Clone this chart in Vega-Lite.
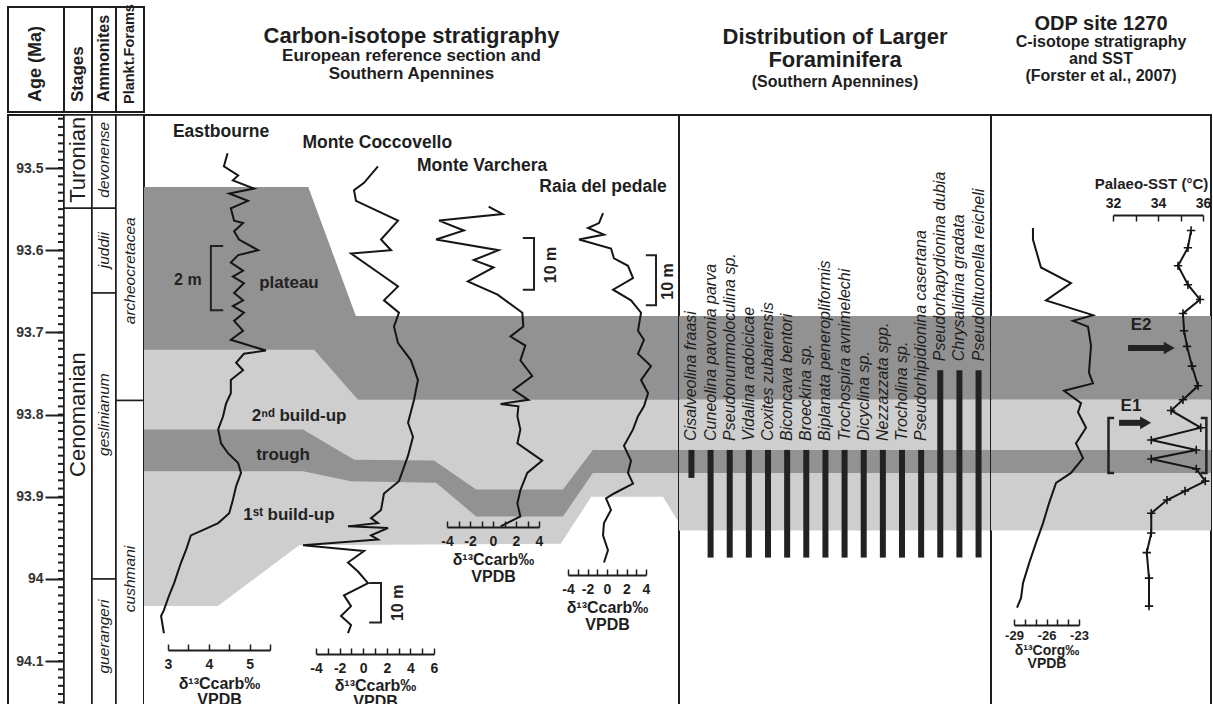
{
"$schema":"https://vega.github.io/schema/vega-lite/v6.json",
"padding":{"left":7,"top":3,"right":3,"bottom":0},
"config":{
 "view":{"stroke":"#1e1e1e","strokeWidth":2},
 "font":"Liberation Sans",
 "axis":{"grid":false,"labelFont":"Liberation Sans","titleFont":"Liberation Sans","labelFontWeight":"bold","labelFontSize":14,"labelColor":"#1e1e1e","titleFontSize":16,"titleFontWeight":"bold","titleColor":"#1e1e1e","domainColor":"#1e1e1e","tickColor":"#1e1e1e","domainWidth":1.8,"tickWidth":1.5,"labelFlush":false,"labelOverlap":false},
 "title":{"font":"Liberation Sans","fontWeight":"bold","color":"#1e1e1e","subtitleFont":"Liberation Sans","subtitleFontWeight":"bold","subtitleColor":"#1e1e1e"},
 "text":{"font":"Liberation Sans"}
},
"datasets":{
 "minorTicks":[{"age":93.44},{"age":93.45},{"age":93.46},{"age":93.47},{"age":93.48},{"age":93.49},{"age":93.5},{"age":93.51},{"age":93.52},{"age":93.53},{"age":93.54},{"age":93.55},{"age":93.56},{"age":93.57},{"age":93.58},{"age":93.59},{"age":93.6},{"age":93.61},{"age":93.62},{"age":93.63},{"age":93.64},{"age":93.65},{"age":93.66},{"age":93.67},{"age":93.68},{"age":93.69},{"age":93.7},{"age":93.71},{"age":93.72},{"age":93.73},{"age":93.74},{"age":93.75},{"age":93.76},{"age":93.77},{"age":93.78},{"age":93.79},{"age":93.8},{"age":93.81},{"age":93.82},{"age":93.83},{"age":93.84},{"age":93.85},{"age":93.86},{"age":93.87},{"age":93.88},{"age":93.89},{"age":93.9},{"age":93.91},{"age":93.92},{"age":93.93},{"age":93.94},{"age":93.95},{"age":93.96},{"age":93.97},{"age":93.98},{"age":93.99},{"age":94},{"age":94.01},{"age":94.02},{"age":94.03},{"age":94.04},{"age":94.05},{"age":94.06},{"age":94.07},{"age":94.08},{"age":94.09},{"age":94.1},{"age":94.11},{"age":94.12},{"age":94.13},{"age":94.14},{"age":94.15}],
 "zones":[
  {"column":"Stages","unit":"Turonian","top":93.4355,"base":93.549,"labelAge":93.49},
  {"column":"Stages","unit":"Cenomanian","top":93.549,"base":94.1582,"labelAge":93.8},
  {"column":"Ammonites","unit":"devonense","top":93.4355,"base":93.549,"labelAge":93.49},
  {"column":"Ammonites","unit":"juddii","top":93.549,"base":93.652,"labelAge":93.6},
  {"column":"Ammonites","unit":"geslinianum","top":93.652,"base":94.0,"labelAge":93.8},
  {"column":"Ammonites","unit":"guerangeri","top":94.0,"base":94.1582,"labelAge":94.07},
  {"column":"Plankt.Forams","unit":"archeocretacea","top":93.4355,"base":93.783,"labelAge":93.625},
  {"column":"Plankt.Forams","unit":"cushmani","top":93.783,"base":94.1582,"labelAge":94.0}
 ],
 "boundaries":[
  {"b":"a","pos":0,"age":93.523},{"b":"a","pos":30.7,"age":93.523},{"b":"a","pos":39.6,"age":93.68},{"b":"a","pos":100,"age":93.68},
  {"b":"b","pos":0,"age":93.721},{"b":"b","pos":31.8,"age":93.721},{"b":"b","pos":40.0,"age":93.782},{"b":"b","pos":100,"age":93.782},
  {"b":"c","pos":0,"age":93.818},{"b":"c","pos":29.7,"age":93.818},{"b":"c","pos":39.3,"age":93.855},{"b":"c","pos":54.2,"age":93.856},{"b":"c","pos":62.1,"age":93.891},{"b":"c","pos":78.3,"age":93.891},{"b":"c","pos":83.9,"age":93.843},{"b":"c","pos":100,"age":93.843},
  {"b":"d","pos":0,"age":93.869},{"b":"d","pos":29.7,"age":93.869},{"b":"d","pos":38.7,"age":93.881},{"b":"d","pos":54.6,"age":93.883},{"b":"d","pos":62.1,"age":93.924},{"b":"d","pos":78.3,"age":93.924},{"b":"d","pos":83.9,"age":93.871},{"b":"d","pos":100,"age":93.871},
  {"b":"e","pos":0,"age":94.033},{"b":"e","pos":13.8,"age":94.033},{"b":"e","pos":29.0,"age":93.959},{"b":"e","pos":77.9,"age":93.957},{"b":"e","pos":83.6,"age":93.9},{"b":"e","pos":97.0,"age":93.9},{"b":"e","pos":100,"age":93.932}
 ],
 "flatBands":[
  {"band":"dark","top":93.68,"base":93.782},
  {"band":"light","top":93.782,"base":93.843},
  {"band":"dark","top":93.843,"base":93.871},
  {"band":"light","top":93.871,"base":93.941}
 ],
 "curves":[
  {"section":"Eastbourne","d13C":4.46,"age":93.482},{"section":"Eastbourne","d13C":4.37,"age":93.498},{"section":"Eastbourne","d13C":4.72,"age":93.509},{"section":"Eastbourne","d13C":4.59,"age":93.515},{"section":"Eastbourne","d13C":5.11,"age":93.525},{"section":"Eastbourne","d13C":4.5,"age":93.531},{"section":"Eastbourne","d13C":4.96,"age":93.54},{"section":"Eastbourne","d13C":4.54,"age":93.549},{"section":"Eastbourne","d13C":4.62,"age":93.564},{"section":"Eastbourne","d13C":4.84,"age":93.567},{"section":"Eastbourne","d13C":4.62,"age":93.577},{"section":"Eastbourne","d13C":4.74,"age":93.587},{"section":"Eastbourne","d13C":5.21,"age":93.6},{"section":"Eastbourne","d13C":4.72,"age":93.606},{"section":"Eastbourne","d13C":4.54,"age":93.615},{"section":"Eastbourne","d13C":4.84,"age":93.625},{"section":"Eastbourne","d13C":4.59,"age":93.632},{"section":"Eastbourne","d13C":4.86,"age":93.64},{"section":"Eastbourne","d13C":4.62,"age":93.652},{"section":"Eastbourne","d13C":4.84,"age":93.661},{"section":"Eastbourne","d13C":4.59,"age":93.668},{"section":"Eastbourne","d13C":4.86,"age":93.676},{"section":"Eastbourne","d13C":4.62,"age":93.686},{"section":"Eastbourne","d13C":4.84,"age":93.698},{"section":"Eastbourne","d13C":4.54,"age":93.709},{"section":"Eastbourne","d13C":5.4,"age":93.722},{"section":"Eastbourne","d13C":4.86,"age":93.726},{"section":"Eastbourne","d13C":4.67,"age":93.737},{"section":"Eastbourne","d13C":4.84,"age":93.746},{"section":"Eastbourne","d13C":4.54,"age":93.758},{"section":"Eastbourne","d13C":4.54,"age":93.774},{"section":"Eastbourne","d13C":4.42,"age":93.787},{"section":"Eastbourne","d13C":4.35,"age":93.802},{"section":"Eastbourne","d13C":4.23,"age":93.818},{"section":"Eastbourne","d13C":4.3,"age":93.835},{"section":"Eastbourne","d13C":4.47,"age":93.847},{"section":"Eastbourne","d13C":4.72,"age":93.859},{"section":"Eastbourne","d13C":4.79,"age":93.871},{"section":"Eastbourne","d13C":4.67,"age":93.887},{"section":"Eastbourne","d13C":4.59,"age":93.904},{"section":"Eastbourne","d13C":4.5,"age":93.92},{"section":"Eastbourne","d13C":4.23,"age":93.932},{"section":"Eastbourne","d13C":3.88,"age":93.94},{"section":"Eastbourne","d13C":3.56,"age":93.947},{"section":"Eastbourne","d13C":3.44,"age":93.965},{"section":"Eastbourne","d13C":3.32,"age":93.98},{"section":"Eastbourne","d13C":3.15,"age":94.005},{"section":"Eastbourne","d13C":3.02,"age":94.021},{"section":"Eastbourne","d13C":2.9,"age":94.038},{"section":"Eastbourne","d13C":2.83,"age":94.045},{"section":"Eastbourne","d13C":2.9,"age":94.066},
  {"section":"Monte Coccovello","d13C":1.25,"age":93.498},{"section":"Monte Coccovello","d13C":0.07,"age":93.518},{"section":"Monte Coccovello","d13C":-0.78,"age":93.527},{"section":"Monte Coccovello","d13C":-0.61,"age":93.54},{"section":"Monte Coccovello","d13C":2.95,"age":93.564},{"section":"Monte Coccovello","d13C":1.51,"age":93.587},{"section":"Monte Coccovello","d13C":2.36,"age":93.6},{"section":"Monte Coccovello","d13C":-1.03,"age":93.604},{"section":"Monte Coccovello","d13C":1.76,"age":93.632},{"section":"Monte Coccovello","d13C":2.95,"age":93.644},{"section":"Monte Coccovello","d13C":1.76,"age":93.661},{"section":"Monte Coccovello","d13C":3.03,"age":93.676},{"section":"Monte Coccovello","d13C":2.61,"age":93.693},{"section":"Monte Coccovello","d13C":2.95,"age":93.713},{"section":"Monte Coccovello","d13C":4.05,"age":93.734},{"section":"Monte Coccovello","d13C":4.64,"age":93.758},{"section":"Monte Coccovello","d13C":4.31,"age":93.782},{"section":"Monte Coccovello","d13C":3.8,"age":93.81},{"section":"Monte Coccovello","d13C":4.22,"age":93.827},{"section":"Monte Coccovello","d13C":3.8,"age":93.85},{"section":"Monte Coccovello","d13C":3.03,"age":93.881},{"section":"Monte Coccovello","d13C":1.76,"age":93.896},{"section":"Monte Coccovello","d13C":1.51,"age":93.916},{"section":"Monte Coccovello","d13C":0.66,"age":93.926},{"section":"Monte Coccovello","d13C":1.25,"age":93.932},{"section":"Monte Coccovello","d13C":-1.29,"age":93.936},{"section":"Monte Coccovello","d13C":2.1,"age":93.938},{"section":"Monte Coccovello","d13C":0.66,"age":93.947},{"section":"Monte Coccovello","d13C":1.25,"age":93.952},{"section":"Monte Coccovello","d13C":-5.1,"age":93.959},{"section":"Monte Coccovello","d13C":0.07,"age":93.966},{"section":"Monte Coccovello","d13C":-1.29,"age":93.98},{"section":"Monte Coccovello","d13C":-0.44,"age":93.991},{"section":"Monte Coccovello","d13C":0.41,"age":94.005},{"section":"Monte Coccovello","d13C":-1.63,"age":94.02},{"section":"Monte Coccovello","d13C":-1.03,"age":94.033},{"section":"Monte Coccovello","d13C":-1.88,"age":94.045},{"section":"Monte Coccovello","d13C":-1.03,"age":94.056},{"section":"Monte Coccovello","d13C":-1.29,"age":94.066},
  {"section":"Monte Varchera","d13C":-0.38,"age":93.547},{"section":"Monte Varchera","d13C":0.83,"age":93.556},{"section":"Monte Varchera","d13C":-4.69,"age":93.564},{"section":"Monte Varchera","d13C":-2.53,"age":93.576},{"section":"Monte Varchera","d13C":-4.95,"age":93.587},{"section":"Monte Varchera","d13C":0.48,"age":93.6},{"section":"Monte Varchera","d13C":-1.67,"age":93.612},{"section":"Monte Varchera","d13C":0.05,"age":93.621},{"section":"Monte Varchera","d13C":-2.19,"age":93.638},{"section":"Monte Varchera","d13C":0.4,"age":93.654},{"section":"Monte Varchera","d13C":2.55,"age":93.676},{"section":"Monte Varchera","d13C":2.64,"age":93.693},{"section":"Monte Varchera","d13C":1.52,"age":93.705},{"section":"Monte Varchera","d13C":2.81,"age":93.716},{"section":"Monte Varchera","d13C":2.38,"age":93.734},{"section":"Monte Varchera","d13C":3.41,"age":93.753},{"section":"Monte Varchera","d13C":1.78,"age":93.77},{"section":"Monte Varchera","d13C":3.07,"age":93.782},{"section":"Monte Varchera","d13C":0.66,"age":93.787},{"section":"Monte Varchera","d13C":2.21,"age":93.79},{"section":"Monte Varchera","d13C":2.12,"age":93.802},{"section":"Monte Varchera","d13C":2.38,"age":93.818},{"section":"Monte Varchera","d13C":2.12,"age":93.835},{"section":"Monte Varchera","d13C":4.28,"age":93.856},{"section":"Monte Varchera","d13C":2.98,"age":93.871},{"section":"Monte Varchera","d13C":2.38,"age":93.892},{"section":"Monte Varchera","d13C":2.12,"age":93.908},{"section":"Monte Varchera","d13C":2.38,"age":93.924},{"section":"Monte Varchera","d13C":1.52,"age":93.93},{"section":"Monte Varchera","d13C":0.66,"age":93.936},
  {"section":"Raia del pedale","d13C":-0.41,"age":93.555},{"section":"Raia del pedale","d13C":-0.82,"age":93.567},{"section":"Raia del pedale","d13C":-1.95,"age":93.573},{"section":"Raia del pedale","d13C":-0.31,"age":93.581},{"section":"Raia del pedale","d13C":-2.87,"age":93.587},{"section":"Raia del pedale","d13C":0.41,"age":93.598},{"section":"Raia del pedale","d13C":0.72,"age":93.61},{"section":"Raia del pedale","d13C":2.15,"age":93.619},{"section":"Raia del pedale","d13C":2.67,"age":93.634},{"section":"Raia del pedale","d13C":0.62,"age":93.648},{"section":"Raia del pedale","d13C":2.46,"age":93.661},{"section":"Raia del pedale","d13C":3.49,"age":93.676},{"section":"Raia del pedale","d13C":3.18,"age":93.698},{"section":"Raia del pedale","d13C":3.79,"age":93.709},{"section":"Raia del pedale","d13C":3.18,"age":93.726},{"section":"Raia del pedale","d13C":4.51,"age":93.741},{"section":"Raia del pedale","d13C":3.49,"age":93.758},{"section":"Raia del pedale","d13C":4.21,"age":93.774},{"section":"Raia del pedale","d13C":3.79,"age":93.79},{"section":"Raia del pedale","d13C":3.18,"age":93.802},{"section":"Raia del pedale","d13C":2.67,"age":93.818},{"section":"Raia del pedale","d13C":1.74,"age":93.838},{"section":"Raia del pedale","d13C":2.46,"age":93.856},{"section":"Raia del pedale","d13C":2.15,"age":93.871},{"section":"Raia del pedale","d13C":2.67,"age":93.884},{"section":"Raia del pedale","d13C":0.72,"age":93.896},{"section":"Raia del pedale","d13C":-0.1,"age":93.902},{"section":"Raia del pedale","d13C":0.41,"age":93.916},{"section":"Raia del pedale","d13C":-0.31,"age":93.932},{"section":"Raia del pedale","d13C":-0.41,"age":93.947},{"section":"Raia del pedale","d13C":0.1,"age":93.965},{"section":"Raia del pedale","d13C":-0.31,"age":93.98}
 ],
 "siteLabels":[
  {"name":"Eastbourne","pos":14.4,"age":93.456},
  {"name":"Monte Coccovello","pos":43.6,"age":93.469},
  {"name":"Monte Varchera","pos":63.2,"age":93.497},
  {"name":"Raia del pedale","pos":85.8,"age":93.523}
 ],
 "bandLabels":[
  {"label":"plateau","pos":27.1,"age":93.64},
  {"label":"2ⁿᵈ build-up","pos":29.0,"age":93.802},
  {"label":"trough","pos":26.0,"age":93.849},
  {"label":"1ˢᵗ build-up","pos":27.1,"age":93.922}
 ],
 "scaleBars":[
  {"bar":"Eastbourne","k":1,"pos":14.8,"age":93.595},{"bar":"Eastbourne","k":2,"pos":12.5,"age":93.595},{"bar":"Eastbourne","k":3,"pos":12.5,"age":93.673},{"bar":"Eastbourne","k":4,"pos":14.8,"age":93.673},
  {"bar":"Coccovello","k":1,"pos":42.1,"age":94.005},{"bar":"Coccovello","k":2,"pos":44.3,"age":94.005},{"bar":"Coccovello","k":3,"pos":44.3,"age":94.053},{"bar":"Coccovello","k":4,"pos":42.1,"age":94.053},
  {"bar":"Varchera","k":1,"pos":70.8,"age":93.585},{"bar":"Varchera","k":2,"pos":72.9,"age":93.585},{"bar":"Varchera","k":3,"pos":72.9,"age":93.648},{"bar":"Varchera","k":4,"pos":70.8,"age":93.648},
  {"bar":"Raia","k":1,"pos":93.8,"age":93.606},{"bar":"Raia","k":2,"pos":95.7,"age":93.606},{"bar":"Raia","k":3,"pos":95.7,"age":93.667},{"bar":"Raia","k":4,"pos":93.8,"age":93.667}
 ],
 "scaleText":[
  {"text":"2 m","kind":"flat","pos":8.2,"age":93.636},
  {"text":"10 m","kind":"up","pos":47.5,"age":94.029},
  {"text":"10 m","kind":"up","pos":76.1,"age":93.618},
  {"text":"10 m","kind":"up","pos":97.9,"age":93.638}
 ],
 "forams":[
  {"species":"Cisalveolina fraasi","top":93.843,"base":93.877},
  {"species":"Cuneolina pavonia parva","top":93.843,"base":93.974},
  {"species":"Pseudonummoloculina sp.","top":93.843,"base":93.974},
  {"species":"Vidalina radoicicae","top":93.843,"base":93.974},
  {"species":"Coxites zubairensis","top":93.843,"base":93.974},
  {"species":"Biconcava bentori","top":93.843,"base":93.974},
  {"species":"Broeckina sp.","top":93.843,"base":93.974},
  {"species":"Biplanata peneropliformis","top":93.843,"base":93.974},
  {"species":"Trochospira avnimelechi","top":93.843,"base":93.974},
  {"species":"Dicyclina sp.","top":93.843,"base":93.974},
  {"species":"Nezzazzata spp.","top":93.843,"base":93.974},
  {"species":"Trocholina sp.","top":93.843,"base":93.974},
  {"species":"Pseudorhipidionina casertana","top":93.843,"base":93.974},
  {"species":"Pseudorhapydionina dubia","top":93.746,"base":93.974},
  {"species":"Chrysalidina gradata","top":93.746,"base":93.974},
  {"species":"Pseudolituonella reicheli","top":93.746,"base":93.974}
 ],
 "corg":[
  {"d13Corg":-27.25,"age":93.573},{"d13Corg":-27.25,"age":93.587},{"d13Corg":-26.51,"age":93.621},{"d13Corg":-23.74,"age":93.64},{"d13Corg":-26.05,"age":93.661},{"d13Corg":-21.71,"age":93.679},{"d13Corg":-23.55,"age":93.686},{"d13Corg":-22.17,"age":93.693},{"d13Corg":-21.89,"age":93.716},{"d13Corg":-22.08,"age":93.749},{"d13Corg":-21.71,"age":93.762},{"d13Corg":-24.38,"age":93.771},{"d13Corg":-22.81,"age":93.786},{"d13Corg":-23.09,"age":93.797},{"d13Corg":-22.35,"age":93.816},{"d13Corg":-23.28,"age":93.835},{"d13Corg":-22.63,"age":93.853},{"d13Corg":-23.74,"age":93.871},{"d13Corg":-25.12,"age":93.883},{"d13Corg":-25.77,"age":93.908},{"d13Corg":-26.32,"age":93.932},{"d13Corg":-26.97,"age":93.956},{"d13Corg":-27.61,"age":93.981},{"d13Corg":-28.17,"age":94.005},{"d13Corg":-28.35,"age":94.023},{"d13Corg":-28.72,"age":94.035}
 ],
 "sst":[
  {"sst":35.47,"age":93.576},{"sst":35.33,"age":93.597},{"sst":34.89,"age":93.619},{"sst":35.33,"age":93.642},{"sst":35.87,"age":93.66},{"sst":35.11,"age":93.677},{"sst":35.16,"age":93.698},{"sst":35.29,"age":93.717},{"sst":35.51,"age":93.741},{"sst":35.78,"age":93.765},{"sst":35.11,"age":93.782},{"sst":34.58,"age":93.795},{"sst":35.9,"age":93.816},{"sst":33.7,"age":93.831},{"sst":35.7,"age":93.843},{"sst":33.7,"age":93.854},{"sst":35.7,"age":93.866},{"sst":36.1,"age":93.881},{"sst":35.2,"age":93.893},{"sst":34.4,"age":93.904},{"sst":33.7,"age":93.92},{"sst":33.7,"age":93.944},{"sst":33.5,"age":93.968},{"sst":33.6,"age":93.999},{"sst":33.6,"age":94.033}
 ],
 "events":[
  {"event":"E2","from":32.67,"to":34.5,"age":93.719,"labelSst":33.25,"labelAge":93.691},
  {"event":"E1","from":32.27,"to":33.45,"age":93.81,"labelSst":32.8,"labelAge":93.79}
 ],
 "eBrackets":[
  {"side":"left","k":1,"sst":32.05,"age":93.804},{"side":"left","k":2,"sst":31.8,"age":93.804},{"side":"left","k":3,"sst":31.8,"age":93.871},{"side":"left","k":4,"sst":32.05,"age":93.871},
  {"side":"right","k":1,"sst":35.9,"age":93.804},{"side":"right","k":2,"sst":36.15,"age":93.804},{"side":"right","k":3,"sst":36.15,"age":93.871},{"side":"right","k":4,"sst":35.9,"age":93.871}
 ]
},
"spacing":0,
"vconcat":[
 {"spacing":0,"bounds":"flush","hconcat":[
  {"width":56,"height":105,"data":{"values":[{"header":"Age (Ma)"}]},"mark":{"type":"text","angle":270,"align":"left","baseline":"middle","dx":10,"fontSize":18,"fontWeight":"bold","color":"#1e1e1e"},"encoding":{"text":{"field":"header"},"y":{"value":"height"}}},
  {"width":28,"height":105,"data":{"values":[{"header":"Stages"}]},"mark":{"type":"text","angle":270,"align":"left","baseline":"middle","dx":10,"fontSize":17,"fontWeight":"bold","color":"#1e1e1e"},"encoding":{"text":{"field":"header"},"y":{"value":"height"}}},
  {"width":24,"height":105,"data":{"values":[{"header":"Ammonites"}]},"mark":{"type":"text","angle":270,"align":"left","baseline":"middle","dx":10,"fontSize":16,"fontWeight":"bold","color":"#1e1e1e"},"encoding":{"text":{"field":"header"},"y":{"value":"height"}}},
  {"width":28,"height":105,"data":{"values":[{"header":"Plankt.Forams"}]},"mark":{"type":"text","angle":270,"align":"left","baseline":"middle","dx":8,"fontSize":14.5,"fontWeight":"bold","color":"#1e1e1e"},"encoding":{"text":{"field":"header"},"y":{"value":"height"}}},
  {"width":535,"height":105,"title":{"text":"Carbon-isotope stratigraphy","subtitle":["European reference section and","Southern Apennines"],"orient":"top","anchor":"middle","frame":"group","offset":-76,"fontSize":22,"subtitleFontSize":17,"subtitlePadding":0,"subtitleLineHeight":18},"data":{"values":[{"k":1}]},"mark":{"type":"point","opacity":0}},
  {"width":312,"height":105,"title":{"text":["Distribution of Larger","Foraminifera"],"subtitle":"(Southern Apennines)","orient":"top","anchor":"middle","frame":"group","offset":-84,"fontSize":22,"lineHeight":23,"subtitleFontSize":16,"subtitlePadding":2},"data":{"values":[{"k":1}]},"mark":{"type":"point","opacity":0}},
  {"width":220,"height":105,"title":{"text":"ODP site 1270","subtitle":["C-isotope stratigraphy","and SST","(Forster et al., 2007)"],"orient":"top","anchor":"middle","frame":"group","offset":-77,"fontSize":20,"subtitleFontSize":16,"subtitlePadding":0,"subtitleLineHeight":17},"data":{"values":[{"k":1}]},"mark":{"type":"point","opacity":0}}
 ]},
 {"spacing":0,"bounds":"flush","hconcat":[
  {"width":56,"height":594,
   "layer":[
    {"data":{"values":[{"age":93.5},{"age":94.1}]},"mark":{"type":"point","opacity":0},
     "encoding":{"y":{"field":"age","type":"quantitative","scale":{"domain":[93.4355,94.1582],"reverse":true,"nice":false,"zero":false},
      "axis":{"orient":"left","offset":-56,"title":null,"domain":false,"tickSize":19,"tickWidth":2,"labelPadding":2,"labelColor":"#333","labelExpr":"'' + datum.value","values":[93.5,93.6,93.7,93.8,93.9,94,94.1]}}}},
    {"data":{"name":"minorTicks"},"mark":{"type":"tick","orient":"horizontal","size":12,"thickness":2,"color":"#1e1e1e","opacity":1},
     "encoding":{"x":{"value":"width"},"y":{"field":"age","type":"quantitative","scale":{"domain":[93.4355,94.1582],"reverse":true,"nice":false,"zero":false},
      "axis":{"orient":"left","offset":-56,"title":null,"domain":false,"tickSize":19,"tickWidth":2,"labelPadding":2,"labelColor":"#333","labelExpr":"'' + datum.value","values":[93.5,93.6,93.7,93.8,93.9,94,94.1]}}}}
   ]},
  {"width":28,"height":594,"data":{"name":"zones"},
   "transform":[{"filter":"datum.column=='Stages'"}],
   "layer":[
    {"mark":{"type":"rect","fill":"white","stroke":"#1e1e1e","strokeWidth":1.5},
     "encoding":{"y":{"field":"top","type":"quantitative","scale":{"domain":[93.4355,94.1582],"reverse":true,"nice":false,"zero":false},"axis":null},"y2":{"field":"base"}}},
    {"mark":{"type":"text","angle":270,"fontSize":22,"color":"#1e1e1e"},
     "encoding":{"y":{"field":"labelAge","type":"quantitative","scale":{"domain":[93.4355,94.1582],"reverse":true,"nice":false,"zero":false},"axis":null},"text":{"field":"unit"}}}
   ]},
  {"width":24,"height":594,"data":{"name":"zones"},
   "transform":[{"filter":"datum.column=='Ammonites'"}],
   "layer":[
    {"mark":{"type":"rect","fill":"white","stroke":"#1e1e1e","strokeWidth":1.5},
     "encoding":{"y":{"field":"top","type":"quantitative","scale":{"domain":[93.4355,94.1582],"reverse":true,"nice":false,"zero":false},"axis":null},"y2":{"field":"base"}}},
    {"mark":{"type":"text","angle":270,"fontSize":15.5,"fontStyle":"italic","color":"#1e1e1e"},
     "encoding":{"y":{"field":"labelAge","type":"quantitative","scale":{"domain":[93.4355,94.1582],"reverse":true,"nice":false,"zero":false},"axis":null},"text":{"field":"unit"}}}
   ]},
  {"width":28,"height":594,"data":{"name":"zones"},
   "transform":[{"filter":"datum.column=='Plankt.Forams'"}],
   "layer":[
    {"mark":{"type":"rect","fill":"white","stroke":"#1e1e1e","strokeWidth":1.5},
     "encoding":{"y":{"field":"top","type":"quantitative","scale":{"domain":[93.4355,94.1582],"reverse":true,"nice":false,"zero":false},"axis":null},"y2":{"field":"base"}}},
    {"mark":{"type":"text","angle":270,"fontSize":15.5,"fontStyle":"italic","color":"#1e1e1e"},
     "encoding":{"y":{"field":"labelAge","type":"quantitative","scale":{"domain":[93.4355,94.1582],"reverse":true,"nice":false,"zero":false},"axis":null},"text":{"field":"unit"}}}
   ]},
  {"width":535,"height":594,
   "resolve":{"scale":{"x":"independent"},"axis":{"x":"independent"}},
   "layer":[
    {"data":{"name":"boundaries"},"transform":[{"filter":"datum.b=='a'"}],"mark":{"type":"area","color":"#929292","clip":true},
     "encoding":{"x":{"field":"pos","type":"quantitative","scale":{"domain":[0,100],"nice":false,"zero":false},"axis":null},"y":{"field":"age","type":"quantitative","scale":{"domain":[93.4355,94.1582],"reverse":true,"nice":false,"zero":false},"axis":null},"y2":{"datum":94.1582}}},
    {"data":{"name":"boundaries"},"transform":[{"filter":"datum.b=='b'"}],"mark":{"type":"area","color":"#cecece","clip":true},
     "encoding":{"x":{"field":"pos","type":"quantitative","scale":{"domain":[0,100],"nice":false,"zero":false},"axis":null},"y":{"field":"age","type":"quantitative","scale":{"domain":[93.4355,94.1582],"reverse":true,"nice":false,"zero":false},"axis":null},"y2":{"datum":94.1582}}},
    {"data":{"name":"boundaries"},"transform":[{"filter":"datum.b=='c'"}],"mark":{"type":"area","color":"#929292","clip":true},
     "encoding":{"x":{"field":"pos","type":"quantitative","scale":{"domain":[0,100],"nice":false,"zero":false},"axis":null},"y":{"field":"age","type":"quantitative","scale":{"domain":[93.4355,94.1582],"reverse":true,"nice":false,"zero":false},"axis":null},"y2":{"datum":94.1582}}},
    {"data":{"name":"boundaries"},"transform":[{"filter":"datum.b=='d'"}],"mark":{"type":"area","color":"#cecece","clip":true},
     "encoding":{"x":{"field":"pos","type":"quantitative","scale":{"domain":[0,100],"nice":false,"zero":false},"axis":null},"y":{"field":"age","type":"quantitative","scale":{"domain":[93.4355,94.1582],"reverse":true,"nice":false,"zero":false},"axis":null},"y2":{"datum":94.1582}}},
    {"data":{"name":"boundaries"},"transform":[{"filter":"datum.b=='e'"}],"mark":{"type":"area","color":"#ffffff","clip":true},
     "encoding":{"x":{"field":"pos","type":"quantitative","scale":{"domain":[0,100],"nice":false,"zero":false},"axis":null},"y":{"field":"age","type":"quantitative","scale":{"domain":[93.4355,94.1582],"reverse":true,"nice":false,"zero":false},"axis":null},"y2":{"datum":94.1582}}},
    {"data":{"name":"curves"},"transform":[{"filter":"datum.section=='Eastbourne'"}],"mark":{"type":"line","color":"#151515","strokeWidth":2},
     "encoding":{"x":{"field":"d13C","type":"quantitative","scale":{"domain":[3,5.5],"range":[24,126],"nice":false,"zero":false},
       "axis":{"orient":"bottom","offset":-59,"zindex":1,"values":[3,3.5,4,4.5,5,5.5],"labelExpr":"datum.value % 1 == 0 ? '' + datum.value : ''","tickSize":-6,"labelPadding":13,"title":["δ¹³Ccarb‰","VPDB"],"titleY":25,"titleBaseline":"top","titleLineHeight":16}},
      "y":{"field":"age","type":"quantitative","scale":{"domain":[93.4355,94.1582],"reverse":true,"nice":false,"zero":false},"axis":null},"order":{"field":"age","type":"quantitative"}}},
    {"data":{"name":"curves"},"transform":[{"filter":"datum.section=='Monte Coccovello'"}],"mark":{"type":"line","color":"#151515","strokeWidth":2},
     "encoding":{"x":{"field":"d13C","type":"quantitative","scale":{"domain":[-4,6],"range":[172,290],"nice":false,"zero":false},
       "axis":{"orient":"bottom","offset":-55,"zindex":1,"values":[-4,-3,-2,-1,0,1,2,3,4,5,6],"labelExpr":"datum.value % 2 == 0 ? '' + datum.value : ''","tickSize":-6,"labelPadding":13,"title":["δ¹³Ccarb‰","VPDB"],"titleY":23,"titleBaseline":"top","titleLineHeight":16}},
      "y":{"field":"age","type":"quantitative","scale":{"domain":[93.4355,94.1582],"reverse":true,"nice":false,"zero":false},"axis":null},"order":{"field":"age","type":"quantitative"}}},
    {"data":{"name":"curves"},"transform":[{"filter":"datum.section=='Monte Varchera'"}],"mark":{"type":"line","color":"#151515","strokeWidth":2},
     "encoding":{"x":{"field":"d13C","type":"quantitative","scale":{"domain":[-4,4],"range":[303,395],"nice":false,"zero":false},
       "axis":{"orient":"bottom","offset":-182,"zindex":1,"values":[-4,-3,-2,-1,0,1,2,3,4],"labelExpr":"datum.value % 2 == 0 ? '' + datum.value : ''","tickSize":-6,"labelPadding":13,"title":["δ¹³Ccarb‰","VPDB"],"titleY":24,"titleBaseline":"top","titleLineHeight":17}},
      "y":{"field":"age","type":"quantitative","scale":{"domain":[93.4355,94.1582],"reverse":true,"nice":false,"zero":false},"axis":null},"order":{"field":"age","type":"quantitative"}}},
    {"data":{"name":"curves"},"transform":[{"filter":"datum.section=='Raia del pedale'"}],"mark":{"type":"line","color":"#151515","strokeWidth":2},
     "encoding":{"x":{"field":"d13C","type":"quantitative","scale":{"domain":[-4,4],"range":[424,502],"nice":false,"zero":false},
       "axis":{"orient":"bottom","offset":-134,"zindex":1,"values":[-4,-3,-2,-1,0,1,2,3,4],"labelExpr":"datum.value % 2 == 0 ? '' + datum.value : ''","tickSize":-6,"labelPadding":13,"title":["δ¹³Ccarb‰","VPDB"],"titleY":24,"titleBaseline":"top","titleLineHeight":17}},
      "y":{"field":"age","type":"quantitative","scale":{"domain":[93.4355,94.1582],"reverse":true,"nice":false,"zero":false},"axis":null},"order":{"field":"age","type":"quantitative"}}},
    {"data":{"name":"siteLabels"},"mark":{"type":"text","fontSize":17.5,"fontWeight":"bold","color":"#1e1e1e"},
     "encoding":{"x":{"field":"pos","type":"quantitative","scale":{"domain":[0,100],"nice":false,"zero":false},"axis":null},"y":{"field":"age","type":"quantitative","scale":{"domain":[93.4355,94.1582],"reverse":true,"nice":false,"zero":false},"axis":null},"text":{"field":"name"}}},
    {"data":{"name":"bandLabels"},"mark":{"type":"text","fontSize":17,"fontWeight":"bold","color":"#222"},
     "encoding":{"x":{"field":"pos","type":"quantitative","scale":{"domain":[0,100],"nice":false,"zero":false},"axis":null},"y":{"field":"age","type":"quantitative","scale":{"domain":[93.4355,94.1582],"reverse":true,"nice":false,"zero":false},"axis":null},"text":{"field":"label"}}},
    {"data":{"name":"scaleBars"},"mark":{"type":"line","color":"#222","strokeWidth":2},
     "encoding":{"x":{"field":"pos","type":"quantitative","scale":{"domain":[0,100],"nice":false,"zero":false},"axis":null},"y":{"field":"age","type":"quantitative","scale":{"domain":[93.4355,94.1582],"reverse":true,"nice":false,"zero":false},"axis":null},"detail":{"field":"bar"},"order":{"field":"k","type":"quantitative"}}},
    {"data":{"name":"scaleText"},"transform":[{"filter":"datum.kind=='flat'"}],"mark":{"type":"text","fontSize":16,"fontWeight":"bold","color":"#222"},
     "encoding":{"x":{"field":"pos","type":"quantitative","scale":{"domain":[0,100],"nice":false,"zero":false},"axis":null},"y":{"field":"age","type":"quantitative","scale":{"domain":[93.4355,94.1582],"reverse":true,"nice":false,"zero":false},"axis":null},"text":{"field":"text"}}},
    {"data":{"name":"scaleText"},"transform":[{"filter":"datum.kind=='up'"}],"mark":{"type":"text","fontSize":16,"fontWeight":"bold","color":"#222","angle":270},
     "encoding":{"x":{"field":"pos","type":"quantitative","scale":{"domain":[0,100],"nice":false,"zero":false},"axis":null},"y":{"field":"age","type":"quantitative","scale":{"domain":[93.4355,94.1582],"reverse":true,"nice":false,"zero":false},"axis":null},"text":{"field":"text"}}}
   ]},
  {"width":312,"height":594,
   "layer":[
    {"data":{"name":"flatBands"},"mark":{"type":"rect"},
     "encoding":{"y":{"field":"top","type":"quantitative","scale":{"domain":[93.4355,94.1582],"reverse":true,"nice":false,"zero":false},"axis":null},"y2":{"field":"base"},
      "color":{"field":"band","type":"nominal","scale":{"domain":["dark","light"],"range":["#929292","#cecece"]},"legend":null}}},
    {"data":{"name":"forams"},"mark":{"type":"rule","strokeWidth":6,"color":"#222"},
     "encoding":{"x":{"field":"species","type":"nominal","sort":null,"scale":{"type":"point","padding":0.65},"axis":null},
      "y":{"field":"top","type":"quantitative","scale":{"domain":[93.4355,94.1582],"reverse":true,"nice":false,"zero":false},"axis":null},"y2":{"field":"base"}}},
    {"data":{"name":"forams"},"mark":{"type":"text","angle":270,"align":"left","baseline":"middle","dx":9,"fontSize":16,"fontStyle":"italic","color":"#1e1e1e"},
     "encoding":{"x":{"field":"species","type":"nominal","sort":null,"scale":{"type":"point","padding":0.65},"axis":null},
      "y":{"field":"top","type":"quantitative","scale":{"domain":[93.4355,94.1582],"reverse":true,"nice":false,"zero":false},"axis":null},"text":{"field":"species"}}}
   ]},
  {"width":220,"height":594,
   "resolve":{"scale":{"x":"independent"},"axis":{"x":"independent"}},
   "layer":[
    {"data":{"name":"flatBands"},"mark":{"type":"rect"},
     "encoding":{"y":{"field":"top","type":"quantitative","scale":{"domain":[93.4355,94.1582],"reverse":true,"nice":false,"zero":false},"axis":null},"y2":{"field":"base"},
      "color":{"field":"band","type":"nominal","scale":{"domain":["dark","light"],"range":["#929292","#cecece"]},"legend":null}}},
    {"data":{"name":"corg"},"mark":{"type":"line","color":"#151515","strokeWidth":2},
     "encoding":{"x":{"field":"d13Corg","type":"quantitative","scale":{"domain":[-29,-23],"range":[23,88],"nice":false,"zero":false},
       "axis":{"orient":"bottom","offset":-84,"zindex":1,"values":[-29,-28,-27,-26,-25,-24,-23],"labelExpr":"(datum.value + 29) % 3 == 0 ? '' + datum.value : ''","tickSize":-6,"labelPadding":10,"labelFontSize":13,"title":["δ¹³Corg‰","VPDB"],"titleFontSize":14,"titleY":18,"titleBaseline":"top","titleLineHeight":13}},
      "y":{"field":"age","type":"quantitative","scale":{"domain":[93.4355,94.1582],"reverse":true,"nice":false,"zero":false},"axis":null},"order":{"field":"age","type":"quantitative"}}},
    {"layer":[
      {"data":{"name":"sst"},"mark":{"type":"line","color":"#151515","strokeWidth":2},
       "encoding":{"x":{"field":"sst","type":"quantitative","scale":{"domain":[32,36],"range":[122,212],"nice":false,"zero":false},
         "axis":{"orient":"top","offset":-100,"zindex":1,"values":[32,32.5,33,33.5,34,34.5,35,35.5,36],"labelExpr":"datum.value % 2 == 0 ? '' + datum.value : ''","tickSize":-6,"labelPadding":11,"title":"Palaeo-SST (°C)","titleFontSize":15,"titleX":160,"titleAlign":"center","titleY":-32,"titleBaseline":"middle"}},
        "y":{"field":"age","type":"quantitative","scale":{"domain":[93.4355,94.1582],"reverse":true,"nice":false,"zero":false},"axis":null},"order":{"field":"age","type":"quantitative"}}},
      {"data":{"name":"sst"},"mark":{"type":"point","shape":"M-1,0L1,0M0,-1L0,1","size":70,"filled":false,"color":"#151515","strokeWidth":1.6,"opacity":1},
       "encoding":{"x":{"field":"sst","type":"quantitative"},"y":{"field":"age","type":"quantitative","scale":{"domain":[93.4355,94.1582],"reverse":true,"nice":false,"zero":false},"axis":null}}},
      {"data":{"name":"events"},"mark":{"type":"rule","strokeWidth":6,"color":"#222"},
       "encoding":{"x":{"field":"from","type":"quantitative"},"x2":{"field":"to"},"y":{"field":"age","type":"quantitative","scale":{"domain":[93.4355,94.1582],"reverse":true,"nice":false,"zero":false},"axis":null}}},
      {"data":{"name":"events"},"mark":{"type":"point","shape":"triangle-right","size":160,"filled":true,"color":"#222","opacity":1},
       "encoding":{"x":{"field":"to","type":"quantitative"},"y":{"field":"age","type":"quantitative","scale":{"domain":[93.4355,94.1582],"reverse":true,"nice":false,"zero":false},"axis":null}}},
      {"data":{"name":"events"},"mark":{"type":"text","fontSize":17,"fontWeight":"bold","color":"#1e1e1e"},
       "encoding":{"x":{"field":"labelSst","type":"quantitative"},"y":{"field":"labelAge","type":"quantitative","scale":{"domain":[93.4355,94.1582],"reverse":true,"nice":false,"zero":false},"axis":null},"text":{"field":"event"}}},
      {"data":{"name":"eBrackets"},"mark":{"type":"line","color":"#222","strokeWidth":2.5},
       "encoding":{"x":{"field":"sst","type":"quantitative"},"y":{"field":"age","type":"quantitative","scale":{"domain":[93.4355,94.1582],"reverse":true,"nice":false,"zero":false},"axis":null},"detail":{"field":"side"},"order":{"field":"k","type":"quantitative"}}}
    ]}
   ]}
 ]}
]
}
